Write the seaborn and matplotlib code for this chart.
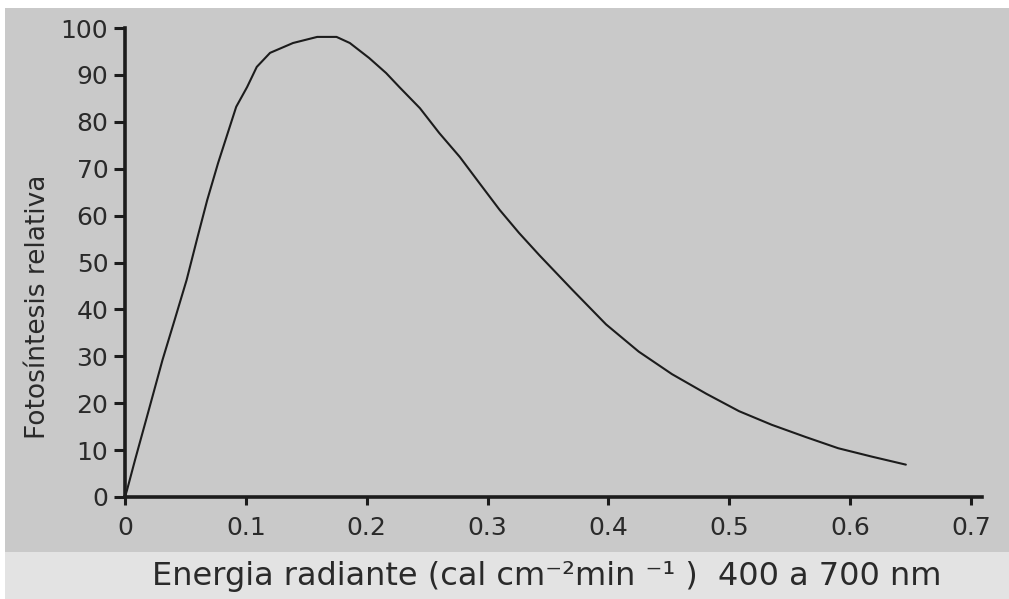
import matplotlib
matplotlib.use("Agg")
import matplotlib.pyplot as plt
from matplotlib.patches import Rectangle
import seaborn as sns
import pandas as pd

# Radiant energy (cal cm^-2 min^-1, 400-700 nm) and relative photosynthesis
energia = [0.0, 0.0017, 0.0083, 0.019, 0.031, 0.041, 0.051, 0.060, 0.068, 0.077,
           0.085, 0.092, 0.101, 0.109, 0.120, 0.139, 0.159, 0.175, 0.186, 0.202,
           0.216, 0.227, 0.244, 0.260, 0.277, 0.293, 0.310, 0.326, 0.343, 0.370,
           0.398, 0.425, 0.4525, 0.481, 0.508, 0.535, 0.563, 0.590, 0.618, 0.646]
fotosintesis = [0.0, 1.5, 7.9, 17.9, 29.2, 37.7, 46.3, 55.4, 63.3, 71.2,
                77.6, 83.2, 87.4, 91.7, 94.7, 96.8, 98.1, 98.1, 96.8, 93.6,
                90.4, 87.4, 82.9, 77.6, 72.5, 67.0, 61.2, 56.3, 51.5, 44.2,
                36.8, 31.0, 26.2, 22.0, 18.3, 15.4, 12.8, 10.4, 8.6, 6.9]

x_ticks = [0, 0.1, 0.2, 0.3, 0.4, 0.5, 0.6, 0.7]
x_tick_labels = ["0", "0.1", "0.2", "0.3", "0.4", "0.5", "0.6", "0.7"]
y_ticks = [0, 10, 20, 30, 40, 50, 60, 70, 80, 90, 100]

x_title = "Energia radiante (cal cm\u207b\u00b2min \u207b\u00b9 )  400 a 700 nm"
y_title = "Fotosíntesis relativa"

df = pd.DataFrame({"energia": energia, "fotosintesis": fotosintesis})

sns.set_theme(style="ticks")
plt.rcParams["font.family"] = ["DejaVu Sans"]

ink = "#1c1c1c"
paper = "#c9c9c9"
band = "#e3e3e3"

fig = plt.figure(figsize=(10.09, 5.99), dpi=100, facecolor="white")

# background layer: paper tone and the lighter strip under the plot
bg = fig.add_axes([0, 0, 1, 1], zorder=-5)
bg.set_xlim(0, 1009)
bg.set_ylim(599, 0)
bg.axis("off")
bg.add_patch(Rectangle((5, 8), 1004, 544, facecolor=paper, edgecolor="none"))
bg.add_patch(Rectangle((5, 552), 1004, 47, facecolor=band, edgecolor="none"))

ax = fig.add_axes([125 / 1009, 1 - 497 / 599, (982 - 125) / 1009, (497 - 28) / 599])
ax.set_facecolor("none")

sns.lineplot(data=df, x="energia", y="fotosintesis", ax=ax, color=ink,
             linewidth=1.5, sort=False)

ax.set_xlim(0, 0.709)
ax.set_ylim(0, 100)
ax.set_xticks(x_ticks)
ax.set_xticklabels(x_tick_labels)
ax.set_yticks(y_ticks)

for side in ("top", "right"):
    ax.spines[side].set_visible(False)
for side in ("left", "bottom"):
    ax.spines[side].set_color(ink)
    ax.spines[side].set_linewidth(2.6)

ax.tick_params(axis="both", colors=ink, labelcolor="#2a2a2a", width=2.2,
               labelsize=18)
ax.tick_params(axis="y", length=8, pad=4)
ax.tick_params(axis="x", length=6, pad=8)

ax.set_xlabel(x_title, fontsize=23, color="#2a2a2a")
ax.xaxis.set_label_coords(0.492, -0.136)
ax.set_ylabel(y_title, fontsize=19, color="#2a2a2a")
ax.yaxis.set_label_coords(-0.086, 0.405)

fig.savefig("out.png", dpi=100, facecolor="white")
